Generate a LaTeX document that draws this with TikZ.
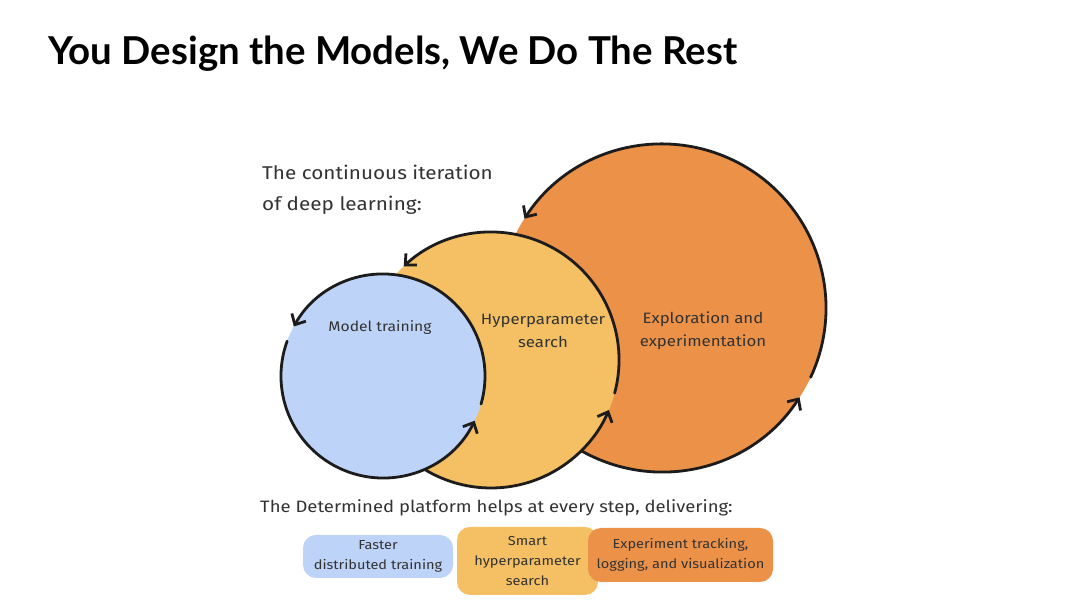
\documentclass[tikz,border=0pt]{standalone}
\usepackage{fontspec}
\setmainfont{Fira Sans}[FakeStretch=1.12]
\newfontfamily\titlefont{Lato}
\usetikzlibrary{arrows.meta}
\definecolor{cblue}{HTML}{BED3F8}
\definecolor{cyellow}{HTML}{F4C063}
\definecolor{corange}{HTML}{EC9148}
\definecolor{ink}{HTML}{1C1C1C}
\definecolor{txt}{HTML}{333333}
\begin{document}
\begin{tikzpicture}[x=1pt,y=1pt,
  disc/.style={circle,inner sep=0pt,outer sep=0pt,minimum size=#1},
  rim/.style={draw=ink,line width=2.8pt,line cap=round},
  tip/.style={-{Straight Barb[length=8.5pt,width=16pt]}},
  lbl/.style={text=txt,font=\fontsize{15}{23}\selectfont,align=center,inner sep=0pt},
  blob/.style={rounded corners=13pt,inner sep=0pt,outer sep=0pt,align=center,text=txt,font=\fontsize{13}{20}\selectfont}
]
\useasboundingbox (0,0) rectangle (1080,601);
\fill[white] (0,0) rectangle (1080,601);

% title
\node[anchor=base west,inner sep=0pt] (title) at (48,536) {\resizebox{689pt}{!}{\titlefont\bfseries You Design the Models, We Do The Rest}};

% orange circle
\node[disc=328pt,fill=corange] (orange) at (662,293) {};
\draw[rim,tip] (orange.155) arc[start angle=155,end angle=327,radius=164];
\draw[rim,tip] (orange.335) arc[start angle=335,end angle=507,radius=164];

% yellow circle
\node[disc=256pt,fill=cyellow] (yellow) at (491,241) {};
\draw[rim,tip] (yellow.150) arc[start angle=150,end angle=337,radius=128];
\draw[rim,tip] (yellow.345) arc[start angle=345,end angle=493,radius=128];

% blue circle
\node[disc=204pt,fill=cblue] (blue) at (383,225) {};
\draw[rim,tip] (blue.160) arc[start angle=160,end angle=334,radius=102];
\draw[rim,tip] (blue.344) arc[start angle=344,end angle=511,radius=102];

% labels
\node[lbl,align=left,anchor=west,font=\fontsize{18.5}{31}\selectfont] (intro) at (262,411.5) {The continuous iteration\\of deep learning:};
\node[lbl,font=\fontsize{14}{23}\selectfont] (mt) at (380,273) {Model training};
\node[lbl] (hs) at (543,270) {Hyperparameter\\search};
\node[lbl] (ee) at (703,270.5) {Exploration and\\experimentation};

\node[lbl,anchor=west,font=\fontsize{16.5}{20}\selectfont] (det) at (260,93) {The Determined platform helps at every step, delivering:};

% blobs
\node[blob,fill=cblue,minimum width=150pt,minimum height=43pt] (b1) at (378,44.5) {Faster\\distributed training};
\node[blob,fill=cyellow,minimum width=141pt,minimum height=68pt] (b2) at (527.5,40) {Smart\\hyperparameter\\search};
\node[blob,fill=corange,minimum width=185pt,minimum height=54pt] (b3) at (680.5,46) {Experiment tracking,\\logging, and visualization};
\end{tikzpicture}
\end{document}
